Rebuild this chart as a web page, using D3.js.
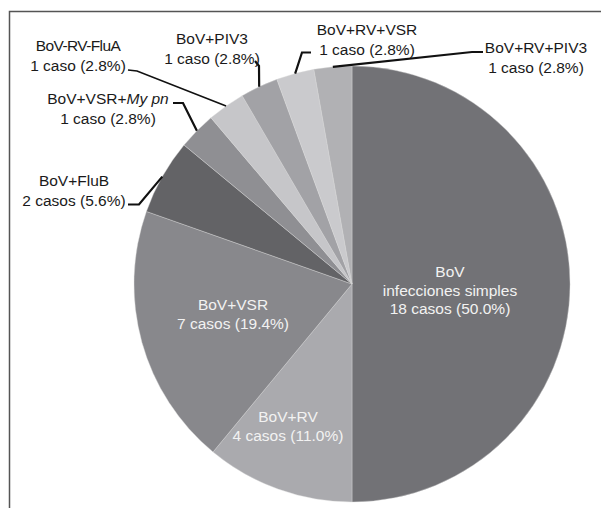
<!DOCTYPE html>
<html>
<head>
<meta charset="utf-8">
<script src="https://cdn.jsdelivr.net/npm/d3@7/dist/d3.min.js"></script>
<style>
  html, body { margin: 0; padding: 0; background: #fff; }
  svg { display: block; font-family: "Liberation Sans", Arial, sans-serif; }
</style>
</head>
<body>
<svg id="chart" width="601" height="508"></svg>
<script>
// Co-infecciones con BoV: categorías, número de casos y porcentaje
const categories = ["BoV", "BoV+RV", "BoV+VSR", "BoV+FluB", "BoV+VSR+My pn",
                    "BoV-RV-FluA", "BoV+PIV3", "BoV+RV+VSR", "BoV+RV+PIV3"];
const cases = [18, 4, 7, 2, 1, 1, 1, 1, 1];
const percents = [50.0, 11.0, 19.4, 5.6, 2.8, 2.8, 2.8, 2.8, 2.8];
const sliceColors = ["#727276", "#aaaaae", "#88888c", "#636366", "#8f8f93",
                     "#c6c6c9", "#a2a2a6", "#cacacd", "#b1b1b4"];

const svg = d3.select("#chart");
const W = 601, H = 508;
const cx = 352, cy = 284, R = 218;

// frame (top and left rules)
svg.append("path")
  .attr("d", `M9.5,${H} L9.5,11.5 L${W},11.5`)
  .attr("fill", "none").attr("stroke", "#555").attr("stroke-width", 1.5);

const pie = d3.pie().sort(null).value(d => d.pct)
  .startAngle(0).endAngle(2 * Math.PI);
const data = categories.map((c, i) => ({ name: c, n: cases[i], pct: percents[i], color: sliceColors[i] }));
const arcs = pie(data);
const arc = d3.arc().innerRadius(0).outerRadius(R);

const g = svg.append("g").attr("transform", `translate(${cx},${cy})`);
g.selectAll("path.slice").data(arcs).enter().append("path")
  .attr("class", "slice")
  .attr("d", arc)
  .attr("fill", d => d.data.color)
  .attr("stroke", "#d8d8da").attr("stroke-width", 0.4);

const caseText = d => `${d.n} caso${d.n > 1 ? "s" : ""} (${d.pct.toFixed(1)}%)`;
const fs = 15.5;

// labels drawn inside the large slices: [index, centre x, first-line y, line gap]
const inside = [
  { i: 0, x: 450, y: 277, gap: 18.6, lines: d => ["BoV", "infecciones simples", caseText(d)] },
  { i: 2, x: 233, y: 310, gap: 19, lines: d => [d.name, caseText(d)] },
  { i: 1, x: 288, y: 422, gap: 19, lines: d => [d.name, caseText(d)] }
];
inside.forEach(L => {
  const d = data[L.i];
  const t = svg.append("text").attr("text-anchor", "middle")
    .attr("font-size", fs).attr("fill", "#f2f2f2");
  L.lines(d).forEach((s, k) => {
    t.append("tspan").attr("x", L.x).attr("y", L.y + k * L.gap).text(s);
  });
});

// outside labels with leader lines to the slice edge
const outside = [
  { i: 3, x: 74,  y: 186, pts: [[128, 204.5], [139, 204.5]], w: 2.2 },
  { i: 4, x: 108, y: 104, pts: [[173, 103], [183, 103]], w: 2.2 },
  { i: 5, x: 78,  y: 51,  pts: [[128, 70], [137, 71]], w: 1.6 },
  { i: 6, x: 212, y: 44,  pts: [[255, 61], [259, 66]], w: 2.2 },
  { i: 7, x: 367, y: 35,  pts: [[311, 52.5], [302, 52.5]], w: 2.2 },
  { i: 8, x: 536, y: 53,  pts: [[483, 52], [472, 52]], w: 2.2 }
];
outside.forEach(L => {
  const a = arcs[L.i];
  const mid = (a.startAngle + a.endAngle) / 2;
  const edge = [cx + R * Math.sin(mid), cy - R * Math.cos(mid)];
  svg.append("path")
    .attr("d", d3.line()(L.pts.concat([edge])))
    .attr("fill", "none").attr("stroke", "#111").attr("stroke-width", L.w);

  const d = a.data;
  const t = svg.append("text").attr("text-anchor", "middle")
    .attr("font-size", fs).attr("fill", "#1a1a1a");
  const first = t.append("tspan").attr("x", L.x).attr("y", L.y);
  const m = d.name.match(/^(.*\+)(My pn)$/);
  if (m) {
    first.text(m[1]);
    t.append("tspan").attr("font-style", "italic").text(m[2]);
  } else if (d.name === "BoV-RV-FluA") {
    first.attr("letter-spacing", -0.6).text(d.name);
  } else {
    first.text(d.name);
  }
  t.append("tspan").attr("x", L.x).attr("y", L.y + 20).text(caseText(d));
});
</script>
</body>
</html>
